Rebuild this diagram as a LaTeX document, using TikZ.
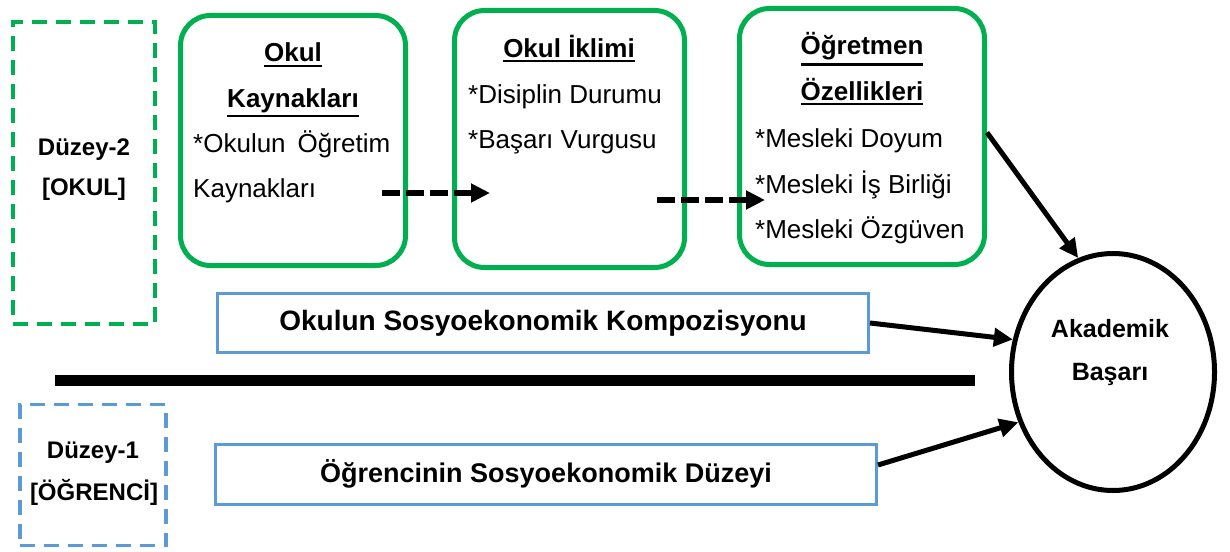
\documentclass[tikz,border=0pt]{standalone}
\usepackage{fontspec}
\setmainfont{Liberation Sans}
\usetikzlibrary{arrows.meta,shapes.geometric}
\definecolor{grn}{RGB}{0,176,80}
\definecolor{blu}{RGB}{91,155,213}
\newcommand\hdr[1]{\vtop{\hbox{\bfseries #1}\kern2.5pt\hrule height 2.6pt}}
\begin{document}
\begin{tikzpicture}[x=1pt,y=-1pt,
  gbox/.style={draw=grn,line width=5pt,rounded corners=30pt,inner sep=0pt},
  sbox/.style={draw=blu,line width=3pt,inner sep=0pt,
    font=\fontsize{27}{30}\selectfont\bfseries},
  lv2box/.style={draw=grn,line width=4pt,dash pattern=on 15pt off 9pt,inner sep=0pt},
  lv1box/.style={draw=blu,line width=3.5pt,dash pattern=on 15pt off 9pt,inner sep=0pt},
  body/.style={font=\fontsize{26}{30}\selectfont,inner sep=0pt,anchor=base west},
  head/.style={font=\fontsize{26}{30}\selectfont,inner sep=0pt,anchor=base},
  lvl/.style={font=\fontsize{24}{28}\selectfont\bfseries,inner sep=0pt,anchor=base},
  arr/.style={line width=5pt,-{Triangle[length=19pt,width=18pt]}},
  darr/.style={line width=6.5pt,dash pattern=on 18pt off 6pt,-{Triangle[length=19pt,width=18pt]}}]
\fill[white] (0,0) rectangle (1230,551);
\useasboundingbox (0,0) rectangle (1230,551);

% level boxes
\node[lv2box,minimum width=142pt,minimum height=302pt] (lv2) at (84,173) {};
\node[lvl] (lv2a) at (84,155) {Düzey-2};
\node[lvl] (lv2b) at (84,195) {[OKUL]};
\node[lv1box,minimum width=146pt,minimum height=141pt] (lv1) at (93,475) {};
\node[lvl] (lv1a) at (93,458) {Düzey-1};
\node[lvl] (lv1b) at (94,500) {[ÖĞRENCİ]};

% green boxes
\node[gbox,minimum width=225pt,minimum height=250pt] (b1) at (293,140.5) {};
\node[gbox,minimum width=230pt,minimum height=257pt] (b2) at (569.5,139) {};
\node[gbox,minimum width=245pt,minimum height=256pt] (b3) at (862,136.5) {};

\node[head] (b1h1) at (293,62) {\hdr{Okul}};
\node[head] (b1h2) at (293,107) {\hdr{Kaynakları}};
\node[body] (b1t1) at (193,152) {\hbox to 197pt{*Okulun\hfill Öğretim}};
\node[body] (b1t2) at (193,197) {Kaynakları};

\node[head] (b2h) at (569,57) {\hdr{Okul İklimi}};
\node[body] (b2t1) at (468,103) {*Disiplin Durumu};
\node[body] (b2t2) at (468,148) {*Başarı Vurgusu};

\node[head] (b3h1) at (862,55) {\hdr{Öğretmen}};
\node[head] (b3h2) at (862,100) {\hdr{Özellikleri}};
\node[body] (b3t1) at (755,147) {*Mesleki Doyum};
\node[body] (b3t2) at (755,193) {*Mesleki İş Birliği};
\node[body] (b3t3) at (755,238) {*Mesleki Özgüven};

% blue boxes
\node[sbox,minimum width=651pt,minimum height=59pt,font=\fontsize{28}{30}\selectfont\bfseries] (s1) at (543,323) {Okulun Sosyoekonomik Kompozisyonu};
\node[sbox,minimum width=661pt,minimum height=60pt] (s2) at (546,474) {Öğrencinin Sosyoekonomik Düzeyi};

% outcome
\node[ellipse,draw,line width=5pt,minimum width=203pt,minimum height=237pt,inner sep=0pt] (ak) at (1113,372) {};
\node[lvl,font=\fontsize{25}{28}\selectfont\bfseries] (ak1) at (1110,337) {Akademik};
\node[lvl,font=\fontsize{25}{28}\selectfont\bfseries] (ak2) at (1110,380) {Başarı};

% separator
\draw[line width=11pt] (55,380) coordinate (sepl) -- (975,380) coordinate (sepr);

% arrows
\coordinate (d1s) at (382,193);
\coordinate (d1e) at (490,193);
\coordinate (d2s) at (657,200);
\coordinate (d2e) at (765,200);
\draw[darr] (d1s) -- (d1e);
\draw[darr] (d2s) -- (d2e);
\draw[arr] ([yshift=4pt]b3.east) -- (ak.107);
\draw[arr] (s1.east) -- (ak.162);
\draw[arr] ([yshift=9pt]s2.east) -- (ak.208);
\end{tikzpicture}
\end{document}
